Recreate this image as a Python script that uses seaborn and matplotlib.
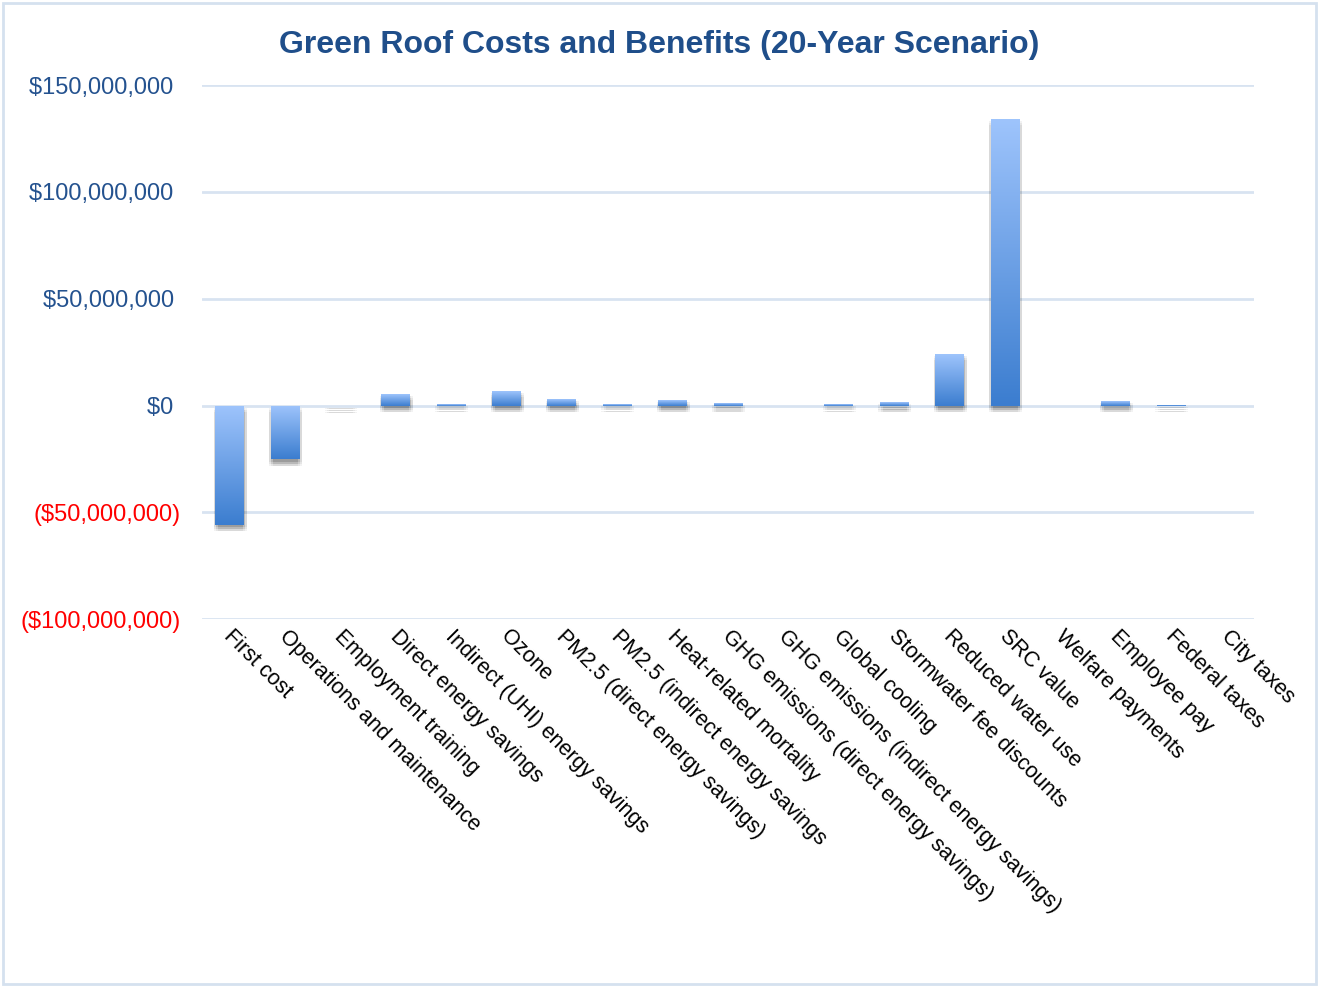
import numpy as np
import matplotlib
matplotlib.use("Agg")
import matplotlib.pyplot as plt
import matplotlib.patheffects as pe
import matplotlib.transforms as mtransforms
from matplotlib.colors import LinearSegmentedColormap
from matplotlib.patches import Rectangle
from matplotlib.ticker import FuncFormatter
import seaborn as sns

# ── DATA ────────────────────────────────────────────────
categories = [
    "First cost", "Operations and maintenance", "Employment training",
    "Direct energy savings", "Indirect (UHI) energy savings", "Ozone",
    "PM2.5 (direct energy savings)", "PM2.5 (indirect energy savings",
    "Heat-related mortality", "GHG emissions (direct energy savings)",
    "GHG emissions (indirect energy savings)", "Global cooling",
    "Stormwater fee discounts", "Reduced water use", "SRC value",
    "Welfare payments", "Employee pay", "Federal taxes", "City taxes",
]
# values in dollars
values = [
    -56.0e6, -25.2e6, -0.4e6,
    5.4e6, 0.6e6, 6.8e6,
    3.0e6, 0.6e6,
    2.6e6, 1.1e6,
    -0.1e6, 0.6e6,
    1.5e6, 24.1e6, 134.2e6,
    -0.1e6, 2.0e6, 0.5e6, -0.1e6,
]
y_ticks = [-100e6, -50e6, 0, 50e6, 100e6, 150e6]

# ── STYLE ───────────────────────────────────────────────
sns.set_theme(style="white")
plt.rcParams['font.family'] = ['Liberation Sans', 'DejaVu Sans']

title_color = '#1f4e8a'
pos_color = '#24528f'
neg_color = '#ff0000'
grid_color = '#d8e3f1'
grad = LinearSegmentedColormap.from_list('bar', ['#3b7dcf', '#9ec4fc'])

fig = plt.figure(figsize=(13.19, 9.86), dpi=100)
ax = fig.add_axes([0.153, 0.372, 0.798, 0.5416])

sns.barplot(x=categories, y=values, color='#6a9fe6', width=0.52,
            saturation=1, ax=ax, zorder=3)

# soft drop shadow + vertical gradient on each bar
shadow = []
for dx in (-1.0, 0.5, 2.0):
    for dy in (-1.5, -3.0, -4.5):
        shadow.append(pe.SimplePatchShadow(offset=(dx, dy),
                                           shadow_rgbFace='#000000',
                                           alpha=0.05))
grad_img = np.linspace(0, 1, 256).reshape(-1, 1)
for bar in ax.patches:
    bar.set_path_effects(shadow + [pe.Normal()])
    bar.set_edgecolor('none')
    x0 = bar.get_x()
    x1 = x0 + bar.get_width()
    y0 = min(bar.get_y(), bar.get_y() + bar.get_height())
    y1 = max(bar.get_y(), bar.get_y() + bar.get_height())
    im = ax.imshow(grad_img, extent=[x0, x1, y0, y1], origin='lower',
                   aspect='auto', cmap=grad, zorder=4)
    im.set_clip_path(bar)

ax.set_xlim(-0.5, len(categories) - 0.5)
ax.set_ylim(-100e6, 150e6)

# axes styling
for s in ax.spines.values():
    s.set_visible(False)
ax.set_yticks(y_ticks)
ax.yaxis.grid(True, color=grid_color, lw=2, zorder=0)
ax.set_axisbelow(True)


def money(v, pos):
    if v < 0:
        return f"(${-v:,.0f})"
    return f"${v:,.0f} "


ax.yaxis.set_major_formatter(FuncFormatter(money))
ax.tick_params(axis='y', length=0, pad=15.5, labelsize=17)
for lab, t in zip(ax.get_yticklabels(), y_ticks):
    lab.set_color(neg_color if t < 0 else pos_color)

ax.tick_params(axis='x', length=0, pad=5, labelsize=15.5)
shift = mtransforms.ScaledTranslation(5 / 100, 0, fig.dpi_scale_trans)
for lab in ax.get_xticklabels():
    lab.set_rotation(-45)
    lab.set_ha('left')
    lab.set_va('top')
    lab.set_rotation_mode('anchor')
    lab.set_color('black')
    lab.set_transform(lab.get_transform() + shift)
ax.set_xlabel('')
ax.set_ylabel('')

fig.text(0.5, 0.954, 'Green Roof Costs and Benefits (20-Year Scenario)',
         ha='center', va='center', fontsize=23, fontweight='bold',
         color=title_color)

# chart border
fig.patches.append(Rectangle((0.002, 0.002), 0.996, 0.995,
                             transform=fig.transFigure, fill=False,
                             ec='#d5e1ef', lw=2))

fig.savefig('out.png', dpi=100)
